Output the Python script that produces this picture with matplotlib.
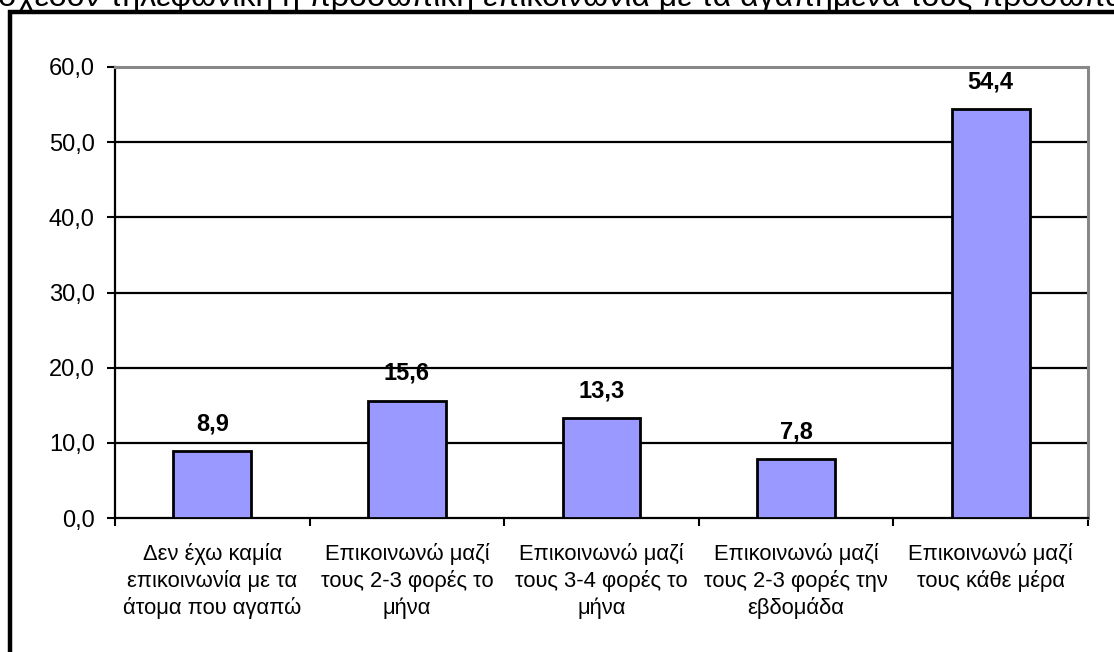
import matplotlib.pyplot as plt
from matplotlib.patches import Rectangle

plt.rcParams['font.family'] = ['Liberation Sans', 'DejaVu Sans']

categories = [
    'Δεν έχω καμία\nεπικοινωνία με τα\nάτομα που αγαπώ',
    'Επικοινωνώ μαζί\nτους 2-3 φορές το\nμήνα',
    'Επικοινωνώ μαζί\nτους 3-4 φορές το\nμήνα',
    'Επικοινωνώ μαζί\nτους 2-3 φορές την\nεβδομάδα',
    'Επικοινωνώ μαζί\nτους κάθε μέρα',
]
values = [8.9, 15.6, 13.3, 7.8, 54.4]
yticks = [0, 10, 20, 30, 40, 50, 60]
title = 'σχεδόν τηλεφωνική ή προσωπική επικοινωνία με τα αγαπημένα τους πρόσωπα'

fig = plt.figure(figsize=(11.14, 6.52), dpi=100)
ax = fig.add_axes([115 / 1114, 1 - 518 / 652, (1088 - 115) / 1114, (518 - 67) / 652])

x = list(range(len(values)))
ax.bar(x, values, width=0.4, color='#9999ff', edgecolor='black', linewidth=2, zorder=3)

for xi, v in zip(x, values):
    ax.annotate(f'{v:.1f}'.replace('.', ','), (xi, v), xytext=(0, 11.5),
                textcoords='offset points', ha='center', va='bottom',
                fontsize=17, fontweight='bold')

ax.set_xlim(-0.5, len(values) - 0.5)
ax.set_ylim(0, 60)

# y axis: comma decimals, black gridlines
ax.set_yticks(yticks)
ax.set_yticklabels([f'{t:.1f}'.replace('.', ',') for t in yticks], fontsize=17)
ax.tick_params(axis='y', direction='out', length=6, width=1.5, pad=8.5)
for t in yticks[1:-1]:
    ax.axhline(t, color='black', linewidth=1.6, zorder=1)

# x axis: ticks on category boundaries, labels centred under bars
ax.set_xticks(x)
ax.set_xticklabels(categories, fontsize=15.8, linespacing=1.3)
ax.tick_params(axis='x', which='major', length=0, pad=18)
ax.set_xticks([i - 0.5 for i in range(len(values) + 1)], minor=True)
ax.tick_params(axis='x', which='minor', direction='out', length=6, width=1.5)

ax.spines['left'].set_linewidth(1.6)
ax.spines['bottom'].set_linewidth(1.6)
ax.spines['top'].set_color('#888888')
ax.spines['right'].set_color('#888888')
ax.spines['top'].set_linewidth(2.2)
ax.spines['right'].set_linewidth(2.2)

# title line cut off by the top of the frame
fig.text(-0.002, 1 - 6 / 652, title, fontsize=23, ha='left', va='baseline')

# outer chart frame
fig.patches.append(Rectangle((10 / 1114, -0.2), 1.2, 1.2 - 12 / 652,
                             transform=fig.transFigure, fill=False,
                             edgecolor='black', linewidth=3.2, clip_on=False))

fig.savefig('out.png', dpi=100)
